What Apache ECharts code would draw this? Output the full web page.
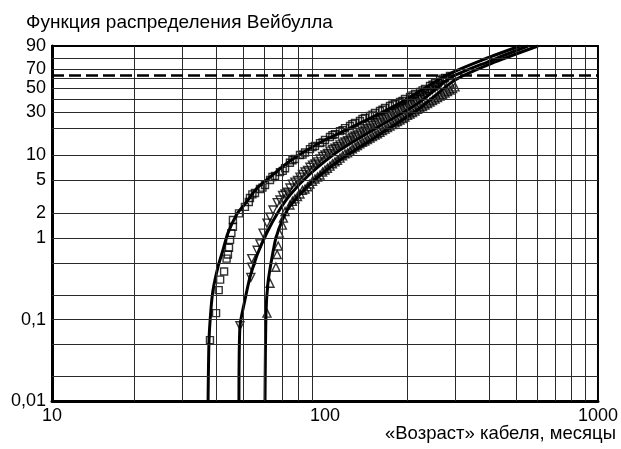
<!DOCTYPE html>
<html>
<head>
<meta charset="utf-8">
<script src="https://cdn.jsdelivr.net/npm/echarts@6/dist/echarts.min.js"></script>
<style>
  html, body { margin: 0; padding: 0; background: #fff; }
  #chart { width: 621px; height: 449px; }
</style>
</head>
<body>
<div id="chart"></div>
<script>
// age in months, cumulative share in %
const squareObs = [
  [37.9, 0.056], [39.9, 0.12], [40.8, 0.23], [41.3, 0.31], [42.7, 0.39], [43.6, 0.56], [44.1, 0.63],
  [44.5, 0.76], [44.9, 0.95], [45.4, 1.15], [46.0, 1.37], [46.0, 1.66], [48.4, 2.0], [50.9, 2.4], [52.6, 2.75],
  [53.1, 3.08], [55.4, 3.54], [57.8, 3.95], [60.3, 4.41], [62.9, 5.06], [65.6, 5.65], [68.4, 6.28],
  [71.4, 7.0], [74.4, 8.1], [77.6, 9.0], [81.0, 10.0], [84.5, 10.7], [88.1, 11.7], [91.9, 12.7],
  [95.9, 13.7], [100, 14.9], [104.3, 16.1], [108.8, 17.3], [113.5, 18.7], [118.4, 20.2], [123.5, 21.3],
  [128.8, 23.0], [134.3, 24.1], [140.1, 26.0], [146.2, 27.2], [152.5, 29.3], [159, 30.7], [165.9, 32.9],
  [173, 34.4], [180.5, 36.0], [188.3, 37.6], [196.4, 40.2], [204.9, 41.9], [213.7, 44.7], [222.9, 46.5],
  [232.5, 49.5], [242.5, 52.4], [253, 55.4], [263.9, 58.5], [275.3, 60.6], [287, 62.7],
  [54.2, 3.4], [59.0, 4.1], [64.2, 5.5], [70.0, 6.5], [76.0, 8.7], [82.7, 10.1], [90.0, 12.4],
  [98.0, 14.0], [106.5, 16.9], [116.0, 19.2], [126.0, 22.3], [137.2, 25.4], [149.3, 28.1], [162.4, 31.6],
  [176.7, 35.5], [192.3, 38.6], [209.3, 43.4], [227.7, 48.1], [247.7, 53.6], [269.6, 59.9]
]
const downObs = [
  [48.8, 0.084], [53.5, 0.33], [53.9, 0.44], [53.9, 0.56], [56.4, 0.71], [57.8, 0.85], [59.3, 1.15],
  [61.3, 1.52], [62.9, 1.8], [64.5, 2.2], [66.8, 2.7],
  [68.4, 2.91], [71.4, 3.44], [74.4, 4.06], [77.6, 4.78], [81.0, 5.48], [84.5, 6.3], [88.1, 7.17],
  [91.9, 7.85], [95.9, 8.98], [100, 10.0], [104.3, 11.1], [108.8, 12.0], [113.5, 13.1], [118.4, 14.1],
  [123.5, 15.3], [128.8, 16.5], [134.3, 17.8], [140.1, 19.2], [146.2, 20.7], [152.5, 22.4], [159, 24.1],
  [165.9, 26.0], [173, 27.9], [180.5, 30.0], [188.3, 32.2], [196.4, 34.4], [204.9, 36.8], [213.7, 39.3],
  [222.9, 41.9], [232.5, 44.7], [242.5, 47.5], [253, 50.5], [263.9, 53.4], [275.3, 56.4],
  [69.9, 3.3], [72.9, 3.6], [76.0, 4.5], [79.3, 5.0], [82.7, 5.9], [86.3, 6.6], [90.0, 7.6], [93.9, 8.3],
  [98.0, 9.6], [102.1, 10.4], [106.5, 11.6], [111.1, 12.5], [116.0, 13.7], [121.0, 14.6], [126.0, 16.0],
  [131.5, 17.0], [137.2, 18.6], [143.1, 19.9], [149.3, 21.6], [155.7, 23.1], [162.4, 25.2], [169.4, 26.9],
  [176.7, 29.1], [184.3, 31.0], [192.3, 33.4], [200.6, 35.5], [209.3, 38.2], [218.3, 40.5], [227.7, 43.4],
  [237.5, 46.0], [247.7, 49.1], [258.4, 51.9]
]
const upObs = [
  [61.3, 0.12], [62.9, 0.28], [66.1, 0.44], [66.8, 0.63], [67.4, 0.8], [68.0, 1.15], [69.8, 1.44],
  [70.4, 1.75], [71.4, 2.1],
  [74.4, 2.53], [77.6, 3.0], [81.0, 3.44], [84.5, 3.95], [88.1, 4.53], [91.9, 5.2], [95.9, 5.81],
  [100, 6.66], [104.3, 7.4], [108.8, 8.3], [113.5, 9.2], [118.4, 10.3], [123.5, 11.1], [128.8, 12.4],
  [134.3, 13.5], [140.1, 14.5], [146.2, 15.7], [152.5, 16.9], [159, 18.2], [165.9, 19.7], [173, 21.3],
  [180.5, 23.0], [188.3, 24.7], [196.4, 26.6], [204.9, 28.6], [213.7, 30.7], [222.9, 32.9], [232.5, 35.2],
  [242.5, 37.6], [253, 40.2], [263.9, 42.7], [275.3, 45.6], [287, 48.5], [299.5, 51.5],
  [76.0, 2.8], [79.3, 3.2], [82.7, 3.8], [86.3, 4.2], [90.0, 4.9], [93.9, 5.5], [98.0, 6.3], [102.1, 7.0],
  [106.5, 7.9], [111.1, 8.7], [116.0, 9.8], [121.0, 10.6], [126.0, 11.8], [131.5, 12.9], [137.2, 14.0],
  [143.1, 15.1], [149.3, 16.3], [155.7, 17.5], [162.4, 19.0], [169.4, 20.5], [176.7, 22.1], [184.3, 23.8],
  [192.3, 25.6], [200.6, 27.6], [209.3, 29.6], [218.3, 31.8], [227.7, 34.0], [237.5, 36.4], [247.7, 38.9],
  [258.4, 41.4], [269.6, 44.1], [281.1, 47.0], [293.2, 50.0]
]
const fitA = [
  [37.3, 0.01], [37.6, 0.056], [38.2, 0.131], [38.9, 0.231], [40.6, 0.45], [42.3, 0.714], [44.1, 1.15],
  [47.6, 1.97], [50.9, 2.6], [56.4, 4.06], [62.9, 5.48], [74.4, 8.5], [98.3, 14.5], [123.5, 20.2],
  [188.3, 36.8], [280, 63.7], [385, 79.7], [518, 90]
]
const fitB = [
  [48.4, 0.01], [48.8, 0.082], [50.9, 0.174], [53.1, 0.33], [56.4, 0.62], [61.3, 1.17], [67.4, 2.08],
  [74.4, 3.34], [88.1, 5.97], [113.5, 11.4], [159, 21.3], [222.9, 37.6], [287, 60.6], [402, 77.8], [554, 90]
]
const fitC = [
  [60.3, 0.01], [60.8, 0.12], [61.8, 0.28], [63.9, 0.57], [66.1, 1.0], [69.8, 1.66], [74.4, 2.45],
  [88.1, 4.53], [113.5, 8.74], [159, 17.3], [222.9, 32.9], [299.5, 58.5], [420, 76.9], [603, 90]
]
const xGrid = [20, 30, 40, 50, 60, 70, 80, 90, 200, 300, 400, 500, 600, 700, 800, 900]
const yGrid = [0.02, 0.05, 0.1, 0.2, 0.5, 1, 2, 5, 10, 20, 30, 40, 50, 60, 70, 80]
const yLabels = [0.01, 0.1, 1, 2, 5, 10, 30, 50, 70, 90]
const charLife = [[10, 63.2], [1000, 63.2]]

const weib = p => Math.log(-Math.log(1 - p / 100))
const toPlot = arr => arr.map(d => [d[0], weib(d[1])])
const fmtPct = p => String(p).replace('.', ',')

const chart = echarts.init(document.getElementById('chart'))
const font = 'Liberation Sans, Arial, sans-serif'
const gridLine = { color: '#2a2a2a', width: 1, type: 'solid' }
const markerStyle = { color: 'rgba(0,0,0,0)', borderColor: '#000', borderWidth: 1.4 }

chart.setOption({
  animation: false,
  title: [
    { text: 'Функция распределения Вейбулла', left: 21, top: 8,
      textStyle: { fontFamily: font, fontSize: 19, fontWeight: 'normal', color: '#000' } },
    { text: '«Возраст» кабеля, месяцы', right: 0, bottom: 1,
      textStyle: { fontFamily: font, fontSize: 18.5, fontWeight: 'normal', color: '#000' } }
  ],
  grid: { left: 52, right: 23, top: 46, bottom: 48, show: true, borderColor: '#000', borderWidth: 2 },
  xAxis: {
    type: 'log', logBase: 10, min: 10, max: 1000,
    axisLine: { onZero: false, lineStyle: { color: '#000', width: 3 } },
    axisTick: { show: false },
    axisLabel: { color: '#000', fontFamily: font, fontSize: 18, margin: 6, formatter: v => String(v) },
    splitLine: { show: false }
  },
  yAxis: {
    type: 'value', min: weib(yLabels[0]), max: weib(yLabels[yLabels.length - 1]),
    axisLine: { show: true, onZero: false, lineStyle: { color: '#000', width: 3 } },
    axisTick: { show: false },
    splitLine: { show: false },
    axisLabel: {
      color: '#000', fontFamily: font, fontSize: 18, margin: 6,
      customValues: yLabels.map(weib),
      formatter: v => {
        let best = yLabels[0]
        yLabels.forEach(p => { if (Math.abs(weib(p) - v) < Math.abs(weib(best) - v)) best = p })
        return fmtPct(best)
      }
    }
  },
  series: [
    {
      type: 'line', data: [], silent: true, z: 1,
      markLine: {
        silent: true, symbol: ['none', 'none'], label: { show: false }, lineStyle: gridLine,
        data: xGrid.map(v => ({ xAxis: v })).concat(yGrid.map(p => ({ yAxis: weib(p) })))
      }
    },
    {
      type: 'line', data: toPlot(charLife), showSymbol: false, silent: true, z: 5,
      lineStyle: { color: '#000', width: 2.5, type: [12, 5] }
    },
    { type: 'scatter', data: toPlot(squareObs), symbol: 'rect', symbolSize: 7, itemStyle: markerStyle, z: 3 },
    { type: 'scatter', data: toPlot(downObs), symbol: 'triangle', symbolRotate: 180, symbolSize: 8, itemStyle: markerStyle, z: 3 },
    { type: 'scatter', data: toPlot(upObs), symbol: 'triangle', symbolSize: 8, itemStyle: markerStyle, z: 3 },
    ...[fitA, fitB, fitC].map(d => ({
      type: 'line', data: toPlot(d), showSymbol: false, smooth: 0.25, z: 4,
      lineStyle: { color: '#000', width: 3 }, silent: true
    }))
  ]
})
</script>
</body>
</html>
